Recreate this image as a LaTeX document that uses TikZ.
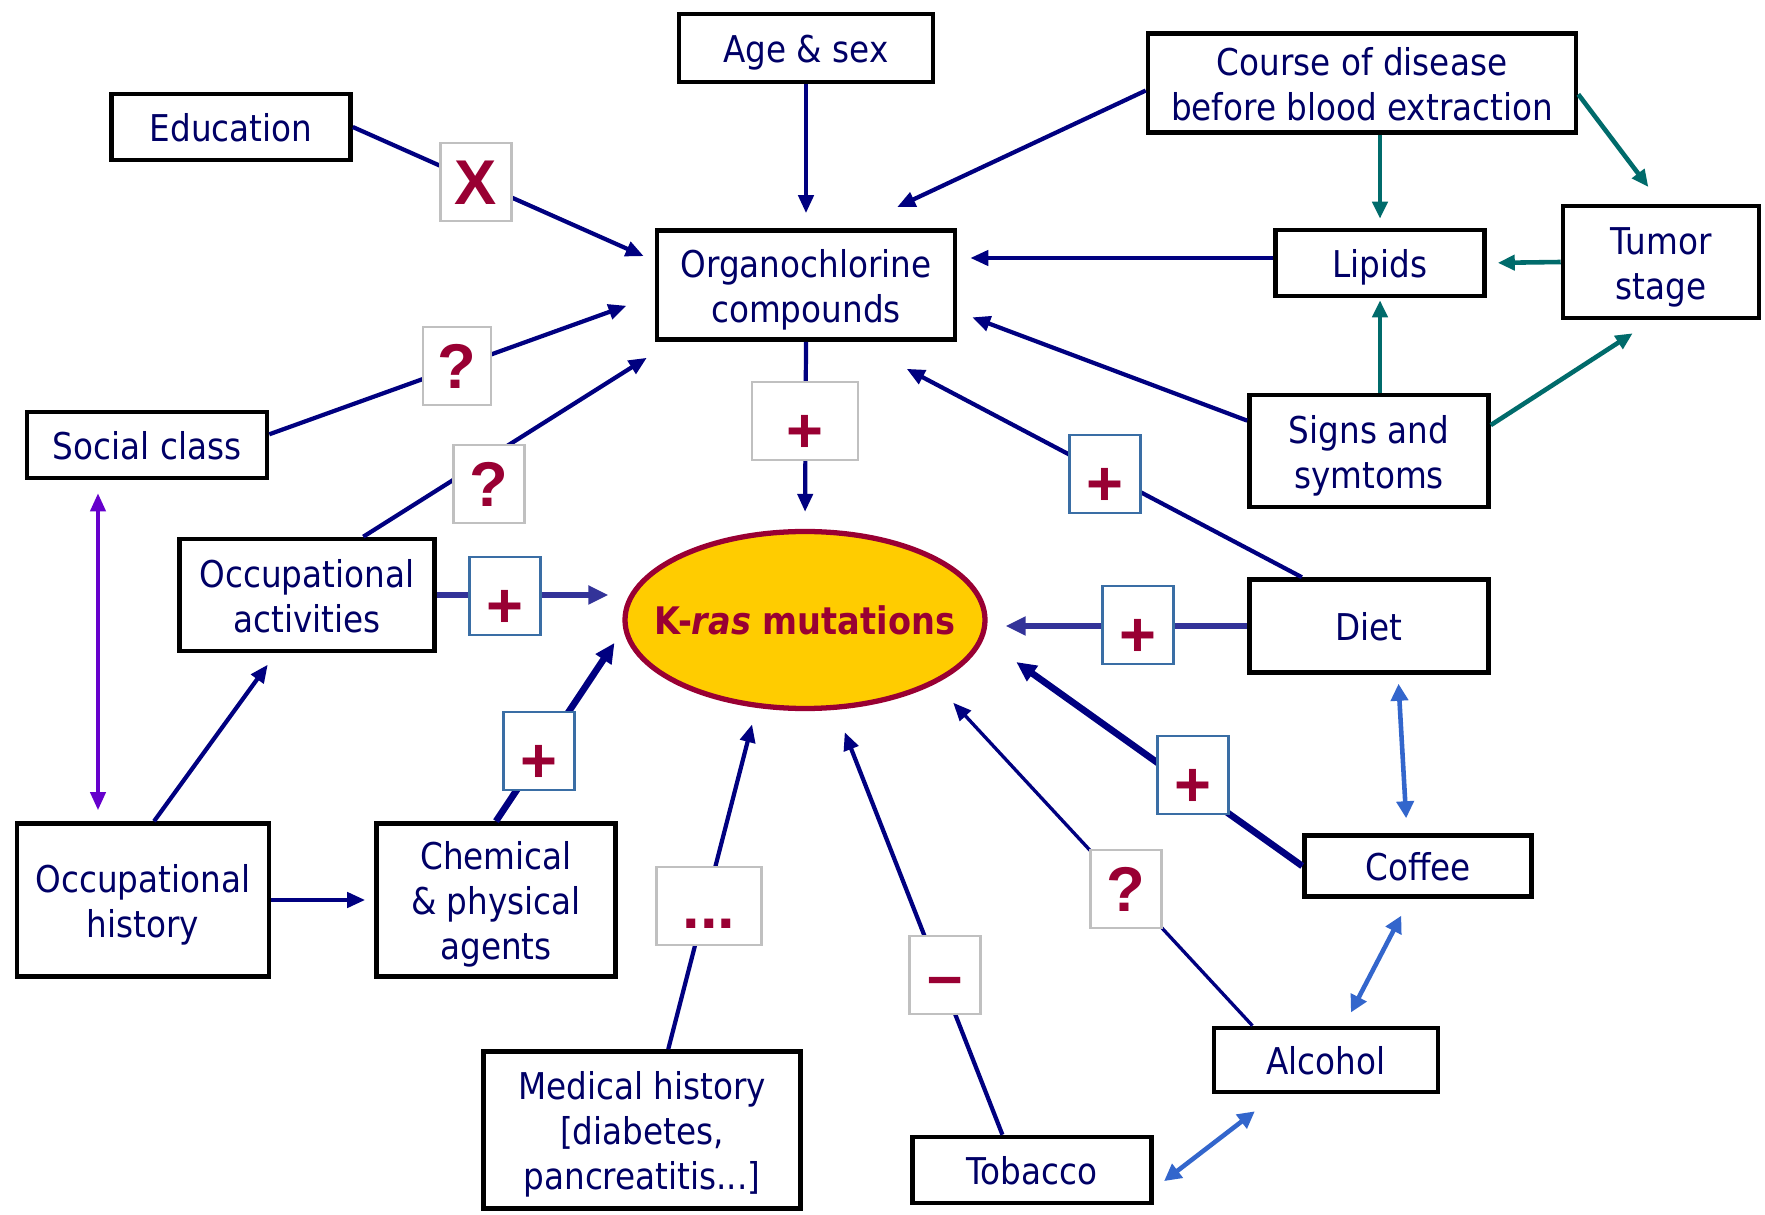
\documentclass[tikz,border=0pt]{standalone}
\usepackage{fontspec}
\setmainfont{DejaVu Sans}[FakeStretch=0.885]
\newfontfamily\signfont{Liberation Sans}
\usepackage{xcolor}
\usetikzlibrary{arrows.meta,shapes.geometric}

\definecolor{txtnavy}{HTML}{000066}
\definecolor{linknavy}{HTML}{000080}
\definecolor{linkblue}{HTML}{333399}
\definecolor{linkteal}{HTML}{006B6B}
\definecolor{linkpurple}{HTML}{6600CC}
\definecolor{linksky}{HTML}{3366CC}
\definecolor{kfill}{HTML}{FFCC00}
\definecolor{kred}{HTML}{990033}
\definecolor{signgray}{HTML}{C0C0C0}
\definecolor{signblue}{HTML}{3A6EA5}

\newcommand{\pluslow}{\raisebox{-0.9mm}{+}}
\newcommand{\tstrut}{\rule{0pt}{11pt}}

\tikzset{
  box/.style={draw=black, line width=1.3pt, fill=white, text=txtnavy, align=center, inner sep=0pt, font=\fontsize{10.5}{12.8}\selectfont,
    execute at end node={\rule[-2.6pt]{0pt}{2.6pt}}},
  sign/.style={draw=signgray, line width=0.7pt, fill=white, text=kred, inner sep=0pt, minimum width=7.1mm, minimum height=7.8mm, text height=13pt, text depth=0pt, font=\signfont\bfseries\fontsize{18}{18}\selectfont},
  bluesign/.style={sign, draw=signblue},
  link/.style={linknavy, line width=1.2pt, -{Triangle[length=1.8mm,width=1.5mm]}},
  heavylink/.style={link, line width=1.9pt, -{Triangle[length=2mm,width=1.8mm]}},
  tealink/.style={linkteal, line width=1.3pt, -{Triangle[length=1.7mm,width=1.5mm]}},
  twoway/.style={linksky, line width=1.3pt, {Triangle[length=1.7mm,width=1.7mm]}-{Triangle[length=1.7mm,width=1.7mm]}},
}

\begin{document}
\begin{tikzpicture}[x=0.1mm, y=-0.1mm]
\useasboundingbox[fill=white] (0,0) rectangle (1765,1215);

\node[box, minimum width=25.4mm, minimum height=6.8mm] (age) at (806,48) {\tstrut Age \& sex};
\node[box, minimum width=23.9mm, minimum height=6.6mm] (edu) at (231,127) {\tstrut Education};
\node[box, minimum width=42.8mm, minimum height=9.9mm] (course) at (1362,83) {\tstrut Course of disease\\before blood extraction};
\node[box, minimum width=29.8mm, minimum height=10.9mm] (org) at (806,285) {\tstrut Organochlorine\\compounds};
\node[box, minimum width=20.9mm, minimum height=6.6mm] (lip) at (1380,263) {\tstrut Lipids};
\node[box, minimum width=19.6mm, minimum height=11.2mm] (tumor) at (1661,262) {\tstrut Tumor\\stage};
\node[box, minimum width=24.0mm, minimum height=6.6mm] (social) at (147,445) {\tstrut Social class};
\node[box, minimum width=23.9mm, minimum height=11.2mm] (signs) at (1369,451) {\tstrut Signs and\\symtoms};
\node[box, minimum width=25.5mm, minimum height=11.2mm] (occact) at (307,595) {\tstrut Occupational\\activities};
\node[box, minimum width=23.9mm, minimum height=9.3mm] (diet) at (1369,626) {\tstrut Diet};
\node[box, minimum width=25.2mm, minimum height=15.3mm] (hist) at (143,900) {\tstrut Occupational\\history};
\node[box, minimum width=23.9mm, minimum height=15.3mm] (chem) at (496,900) {\tstrut Chemical\\\& physical\\agents};
\node[box, minimum width=22.7mm, minimum height=6.1mm] (coffee) at (1418,866) {\tstrut Coffee};
\node[box, minimum width=22.4mm, minimum height=6.4mm] (alc) at (1326,1060) {\tstrut Alcohol};
\node[box, minimum width=31.7mm, minimum height=15.7mm] (med) at (642,1130) {\tstrut Medical history\\{[}diabetes,\\pancreatitis...]};
\node[box, minimum width=23.9mm, minimum height=6.6mm] (tob) at (1032,1170) {\tstrut Tobacco};
\node[ellipse, draw=kred, line width=1.5pt, fill=kfill, minimum width=36mm, minimum height=17.7mm, inner sep=0pt, text=kred, font=\bfseries\fontsize{10.8}{13}\selectfont] (kras) at (805,620) {\makebox[0pt]{K-\textit{ras} mutations}};

\coordinate (lipout) at ([yshift=0.5mm]lip.west);

\draw[link, shorten >=1.5mm] (age.south) -- (org.north);
\draw[link, shorten >=1.2mm] (edu.east) -- (org.171.3);
\draw[link, shorten >=5mm] (course.182) -- (org.51.8);
\draw[tealink, shorten >=0.9mm] (course.south -| lip.north) -- (lip.north);
\draw[tealink, shorten >=2.1mm] (course.-3) -- (tumor.north);
\draw[link, shorten >=1.3mm] (lipout) -- (lipout -| org.east);
\draw[tealink, shorten >=1.1mm] (tumor.west) -- (lip.east);
\draw[tealink, shorten >=0.2mm] (signs.north -| lip.south) -- (lip.south);
\draw[tealink, shorten >=2.4mm] (signs.12.6) -- (tumor.-98.8);
\draw[link, shorten >=1.6mm] (signs.166.6) -- (org.-10.9);
\draw[link, shorten >=3mm] (social.5.6) -- (org.184.5);
\draw[link, shorten >=3mm] (occact.46.5) -- (org.203.8);
\draw[link, shorten >=1.7mm] (org.south) -- (kras.north);
\draw[heavylink, linkblue, shorten >=1.4mm] (occact.east) -- (occact.east -| kras.west);
\draw[link, shorten >=5.8mm] (diet.144.1) -- (org.-49.3);
\draw[heavylink, linkblue, shorten >=1.8mm] (diet.west) -- (diet.west -| kras.east);
\draw[heavylink, shorten >=4mm] (coffee.west) -- (kras.-6.9);
\draw[link, line width=0.95pt, shorten >=2.6mm] (alc.155.3) -- (kras.-26.9);
\draw[link, shorten >=2.4mm] (tob.130.6) -- (kras.-71.4);
\draw[link, shorten >=1.7mm] (med.72.1) -- (kras.-119.7);
\draw[heavylink, shorten >=1.6mm] (chem.north) -- (kras.183.7);
\draw[link, shorten >=1.4mm] (hist.82) -- (occact.-118.1);
\draw[link, shorten >=0.9mm] (hist.east) -- (chem.west);
\draw[linkpurple, line width=1.1pt, {Triangle[length=1.8mm,width=1.5mm]}-{Triangle[length=1.8mm,width=1.5mm]}, shorten <=1.3mm, shorten >=1.1mm] ([xshift=-4.9mm]social.south) -- ([xshift=-4.5mm]hist.north);
\draw[twoway, shorten <=0.9mm, shorten >=1.5mm] ([xshift=2.9mm]diet.south) -- ([xshift=-1.1mm]coffee.north);
\draw[twoway, shorten <=1.9mm, shorten >=1.5mm] ([xshift=-0.8mm]coffee.south) -- ([xshift=1.8mm]alc.north);
\draw[twoway, shorten <=2.8mm, shorten >=1.3mm] ([xshift=-4.9mm]alc.south) -- ([yshift=-1.9mm]tob.east);

\node[sign] (sx) at (476,182) {X};
\node[sign, minimum width=6.8mm] (sq1) at (457,366) {?};
\node[sign] (sq2) at (489,484) {?};
\node[sign, minimum width=10.6mm] (sp1) at (805,421) {\pluslow};
\node[bluesign] (sp2) at (505,596) {\pluslow};
\node[bluesign] (sp3) at (1105,474) {\pluslow};
\node[bluesign] (sp4) at (1138,625) {\pluslow};
\node[bluesign] (sp5) at (539,751) {\pluslow};
\node[bluesign] (sp6) at (1193,775) {\pluslow};
\node[sign] (sq3) at (1126,889) {?};
\node[sign, minimum width=10.5mm] (sdots) at (709,906) {...};
\node[sign] (sm) at (945,975) {–};
\end{tikzpicture}
\end{document}
